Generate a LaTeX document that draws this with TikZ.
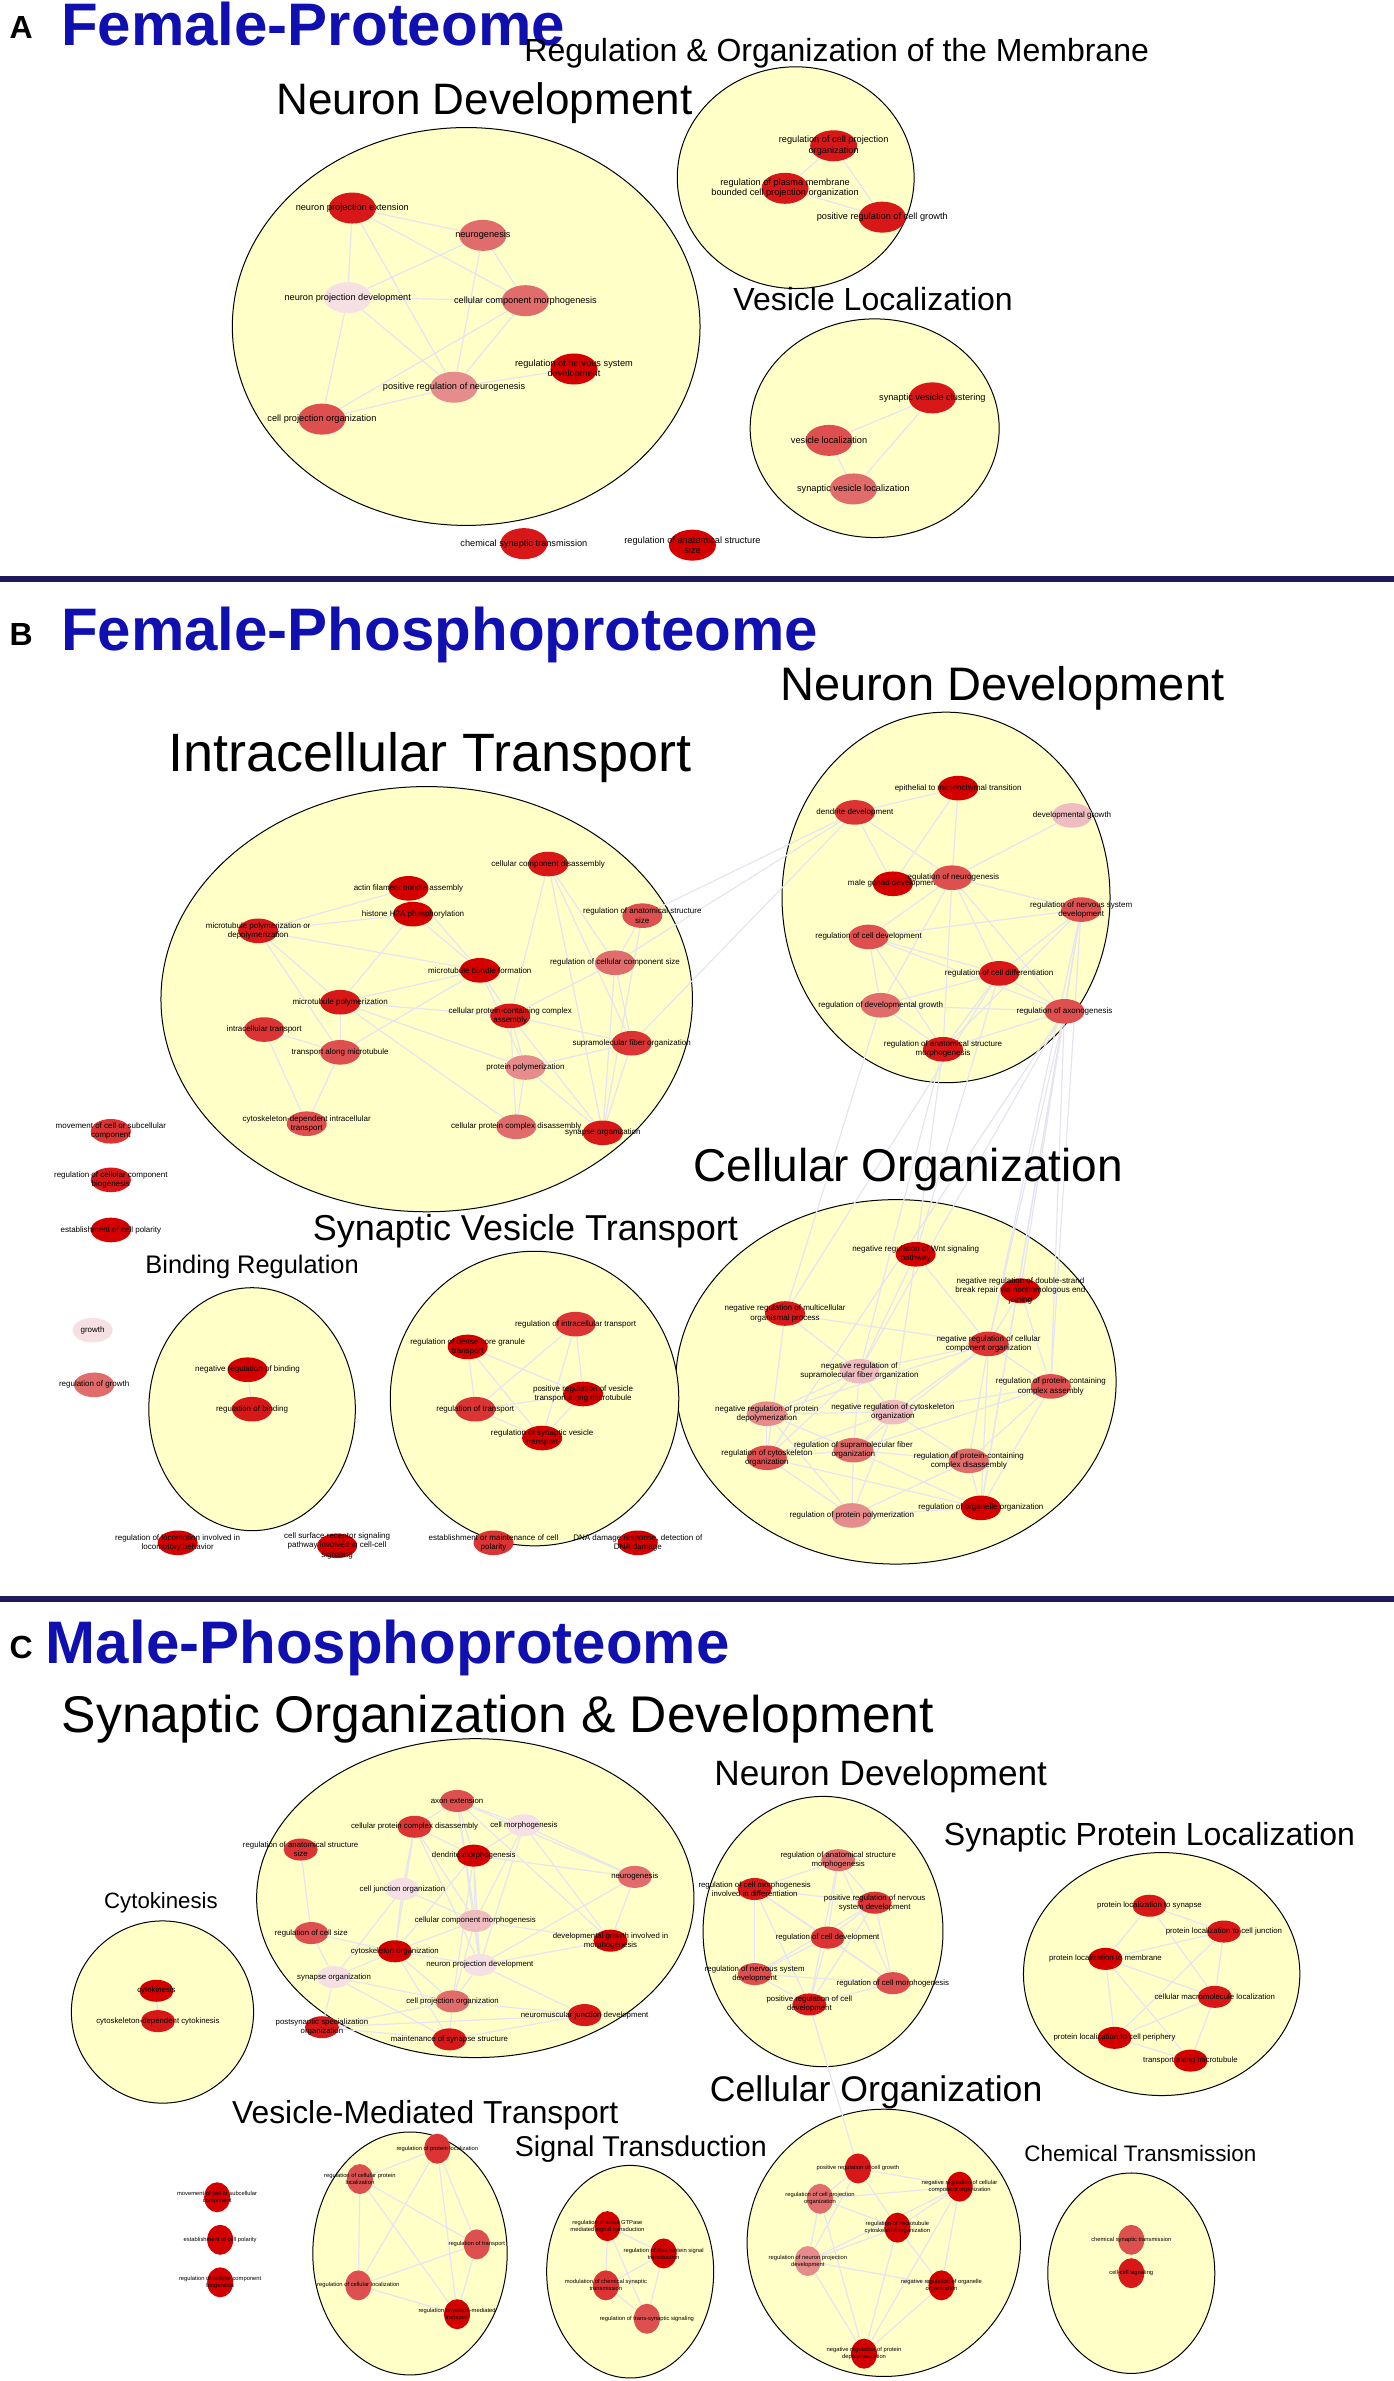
\documentclass[tikz,border=0pt]{standalone}
\usepackage{fontspec}
\setmainfont{Liberation Sans}
\usetikzlibrary{shapes.geometric}
\pgfdeclarelayer{bg}\pgfdeclarelayer{edges}
\pgfsetlayers{bg,edges,main}
\definecolor{cR}{HTML}{D40000}
\definecolor{cRb}{HTML}{D81818}
\definecolor{cM}{HTML}{DC3434}
\definecolor{cMb}{HTML}{DE5050}
\definecolor{cL}{HTML}{E16C6C}
\definecolor{cLb}{HTML}{E68C8C}
\definecolor{cP}{HTML}{EFBCC0}
\definecolor{cPP}{HTML}{F6E0E4}
\definecolor{clfill}{HTML}{FFFFC8}
\definecolor{edg}{HTML}{E6E4F0}
\definecolor{navy}{HTML}{1E1A5C}
\definecolor{ttl}{HTML}{1010B0}
\newcommand\gn[6]{\node[#1,fill=#5] (#2) at (#3,#4) {}; \node[#1l] at (#2) {#6};}
\tikzset{
 gA/.style={ellipse,draw=none,minimum width=23.5pt,minimum height=15.5pt,inner sep=0pt},
 gAl/.style={inner sep=0pt,align=center,font=\fontsize{4.6}{5.2}\selectfont},
 gB/.style={ellipse,draw=none,minimum width=20pt,minimum height=12.3pt,inner sep=0pt},
 gBl/.style={inner sep=0pt,align=center,font=\fontsize{4.0}{4.6}\selectfont},
 gC/.style={ellipse,draw=none,minimum width=17pt,minimum height=11pt,inner sep=0pt},
 gCl/.style={inner sep=0pt,align=center,font=\fontsize{3.9}{4.5}\selectfont},
 gD/.style={ellipse,draw=none,minimum width=13pt,minimum height=15pt,inner sep=0pt},
 gDl/.style={inner sep=0pt,align=center,font=\fontsize{2.9}{3.5}\selectfont},
 cl/.style={draw=black,line width=0.5pt,fill=clfill},
 ed/.style={draw=edg,line width=0.6pt},
 ttlnode/.style={inner sep=0pt,anchor=west,text=ttl,font=\bfseries\fontsize{30}{32}\selectfont},
 letnode/.style={inner sep=0pt,font=\bfseries\fontsize{16}{18}\selectfont},
 hd/.style={inner sep=0pt,font=\fontsize{#1}{#1}\selectfont},
 div/.style={line width=3pt,draw=navy}
}
\begin{document}
\begin{tikzpicture}[x=0.759pt,y=-0.759pt]
\useasboundingbox (0,0) rectangle (918,1568);
% ================= Panel A =================
\node[letnode] (LA) at (14,18) {A};
\node[ttlnode] (TA) at (40,16) {Female-Proteome};
\node[hd=16] (hA1) at (551,35) {Regulation \& Organization of the Membrane};
\node[hd=22] (hA2) at (319,68) {Neuron Development};
\node[hd=16] (hA3) at (575,197) {Vesicle Localization};
\begin{pgfonlayer}{bg}
\draw[cl] (307,215) ellipse [x radius=154,y radius=131];
\draw[cl] (524,117) ellipse [x radius=78,y radius=73];
\draw[cl] (576,282) ellipse [x radius=82,y radius=72];
\end{pgfonlayer}
\gn{gA}{anpe}{232}{137}{cRb}{neuron projection extension}
\gn{gA}{ang}{318}{155}{cL}{neurogenesis}
\gn{gA}{anpd}{229}{196}{cPP}{neuron projection development}
\gn{gA}{accm}{346}{198}{cL}{cellular component morphogenesis}
\gn{gA}{arnsd}{378}{243}{cR}{regulation of nervous system\\development}
\gn{gA}{aprn}{299}{255}{cLb}{positive regulation of neurogenesis}
\gn{gA}{acpo}{212}{276}{cMb}{cell projection organization}
\gn{gA}{arcpo}{549}{96}{cRb}{regulation of cell projection\\organization}
\gn{gA}{arpm}{517}{124}{cRb}{regulation of plasma membrane\\bounded cell projection organization}
\gn{gA}{aprcg}{581}{143}{cRb}{positive regulation of cell growth}
\gn{gA}{asvc}{614}{262}{cRb}{synaptic vesicle clustering}
\gn{gA}{avl}{546}{290}{cMb}{vesicle localization}
\gn{gA}{asvl}{562}{322}{cL}{synaptic vesicle localization}
\gn{gA}{acst}{345}{358}{cRb}{chemical synaptic transmission}
\gn{gA}{aras}{456}{359}{cR}{regulation of anatomical structure\\size}
\begin{pgfonlayer}{edges}
\foreach \a/\b in {anpe/ang,anpe/anpd,anpe/aprn,anpe/accm,ang/anpd,ang/accm,ang/aprn,anpd/accm,anpd/aprn,anpd/acpo,accm/aprn,accm/acpo,aprn/arnsd,aprn/acpo,arcpo/arpm,arcpo/aprcg,arpm/aprcg,asvc/avl,asvc/asvl,avl/asvl}
 \draw[ed] (\a) -- (\b);
\end{pgfonlayer}
\draw[div] (0,381) -- (918,381);
% ================= Panel B =================
\node[letnode] (LB) at (14,418) {B};
\node[ttlnode] (TB) at (40,418) {Female-Phosphoproteome};
\node[hd=23.5] (hB1) at (660,453) {Neuron Development};
\node[hd=27] (hB2) at (283,499) {Intracellular Transport};
\node[hd=23] (hB3) at (598,770) {Cellular Organization};
\node[hd=18] (hB4) at (346,811) {Synaptic Vesicle Transport};
\node[hd=12.7] (hB5) at (166,834) {Binding Regulation};
\begin{pgfonlayer}{bg}
\draw[cl] (281,658) ellipse [x radius=175,y radius=140];
\draw[cl] (623,591) ellipse [x radius=108,y radius=122];
\draw[cl] (590,910) ellipse [x radius=145,y radius=120];
\draw[cl] (352,921) ellipse [x radius=95,y radius=97];
\draw[cl] (166,928) ellipse [x radius=68,y radius=80];
\end{pgfonlayer}
\gn{gB}{bccd}{361}{569}{cRb}{cellular component disassembly}
\gn{gB}{bafb}{269}{585}{cR}{actin filament bundle assembly}
\gn{gB}{bras}{423}{603}{cMb}{regulation of anatomical structure\\size}
\gn{gB}{bmpd}{170}{613}{cRb}{microtubule polymerization or\\depolymerization}
\gn{gB}{bh2a}{272}{602}{cR}{histone H2A phosphorylation}
\gn{gB}{bmbf}{316}{639}{cR}{microtubule bundle formation}
\gn{gB}{brccs}{405}{634}{cL}{regulation of cellular component size}
\gn{gB}{bmp}{224}{660}{cRb}{microtubule polymerization}
\gn{gB}{bcpcca}{336}{669}{cRb}{cellular protein-containing complex\\assembly}
\gn{gB}{bitr}{174}{678}{cM}{intracellular transport}
\gn{gB}{btam}{224}{693}{cMb}{transport along microtubule}
\gn{gB}{bsfo}{416}{687}{cM}{supramolecular fiber organization}
\gn{gB}{bpp}{346}{703}{cLb}{protein polymerization}
\gn{gB}{bcdit}{202}{740}{cMb}{cytoskeleton-dependent intracellular\\transport}
\gn{gB}{bcpcd}{340}{742}{cL}{cellular protein complex disassembly}
\gn{gB}{bso}{397}{746}{cRb}{synapse organization}
% ND
\gn{gB}{bemt}{631}{519}{cR}{epithelial to mesenchymal transition}
\gn{gB}{bdd}{563}{535}{cM}{dendrite development}
\gn{gB}{bdg}{706}{537}{cP}{developmental growth}
\gn{gB}{bmgd}{588}{582}{cR}{male gonad development}
\gn{gB}{brn}{627}{578}{cMb}{regulation of neurogenesis}
\gn{gB}{brnsd}{712}{599}{cMb}{regulation of nervous system\\development}
\gn{gB}{brcd}{572}{617}{cMb}{regulation of cell development}
\gn{gB}{brcdiff}{658}{641}{cRb}{regulation of cell differentiation}
\gn{gB}{brdg}{580}{662}{cL}{regulation of developmental growth}
\gn{gB}{brax}{701}{666}{cMb}{regulation of axonogenesis}
\gn{gB}{brasm}{621}{691}{cRb}{regulation of anatomical structure\\morphogenesis}
% CO
\gn{gB}{bnrw}{603}{826}{cR}{negative regulation of Wnt signaling\\pathway}
\gn{gB}{bnrdsb}{672}{850}{cR}{negative regulation of double-strand\\break repair via nonhomologous end\\joining}
\gn{gB}{bnrmop}{517}{865}{cRb}{negative regulation of multicellular\\organismal process}
\gn{gB}{bnrcco}{651}{885}{cM}{negative regulation of cellular\\component organization}
\gn{gB}{bnrsfo}{566}{903}{cP}{negative regulation of\\supramolecular fiber organization}
\gn{gB}{brpcca}{692}{913}{cMb}{regulation of protein-containing\\complex assembly}
\gn{gB}{bnrpd}{505}{931}{cLb}{negative regulation of protein\\depolymerization}
\gn{gB}{bnrco}{588}{930}{cP}{negative regulation of cytoskeleton\\organization}
\gn{gB}{brsfo}{562}{955}{cL}{regulation of supramolecular fiber\\organization}
\gn{gB}{brco}{505}{960}{cMb}{regulation of cytoskeleton\\organization}
\gn{gB}{brpcd}{638}{962}{cL}{regulation of protein-containing\\complex disassembly}
\gn{gB}{broo}{646}{993}{cR}{regulation of organelle organization}
\gn{gB}{brpp}{561}{998}{cLb}{regulation of protein polymerization}
% SVT / BR
\gn{gB}{brit}{379}{872}{cM}{regulation of intracellular transport}
\gn{gB}{brdcg}{308}{887}{cR}{regulation of dense core granule\\transport}
\gn{gB}{bprvt}{384}{918}{cR}{positive regulation of vesicle\\transport along microtubule}
\gn{gB}{brt}{313}{928}{cM}{regulation of transport}
\gn{gB}{brsvt}{357}{947}{cR}{regulation of synaptic vesicle\\transport}
\gn{gB}{bnrb}{163}{902}{cR}{negative regulation of binding}
\gn{gB}{brb}{166}{928}{cRb}{regulation of binding}
% loose
\gn{gB}{bmcsc}{73}{745}{cM}{movement of cell or subcellular\\component}
\gn{gB}{brccb}{73}{777}{cRb}{regulation of cellular component\\biogenesis}
\gn{gB}{becp}{73}{810}{cR}{establishment of cell polarity}
\gn{gB}{bgr}{61}{876}{cPP}{growth}
\gn{gB}{brg}{62}{912}{cL}{regulation of growth}
\gn{gB}{brlib}{117}{1016}{cR}{regulation of locomotion involved in\\locomotory behavior}
\gn{gB}{bcsrs}{222}{1018}{cR}{cell surface receptor signaling\\pathway involved in cell-cell\\signaling}
\gn{gB}{bemcp}{325}{1016}{cM}{establishment or maintenance of cell\\polarity}
\gn{gB}{bddr}{420}{1016}{cR}{DNA damage response, detection of\\DNA damage}
\begin{pgfonlayer}{edges}
\foreach \a/\b in {bafb/bh2a,bafb/bmpd,bafb/bmbf,bh2a/bmbf,bh2a/bmpd,bh2a/bmp,bmpd/bmbf,bmpd/bmp,bmpd/btam,bmbf/bmp,bmbf/bcpcca,bmbf/btam,bmbf/bpp,bmp/bcpcca,bmp/btam,bmp/bpp,bmp/bcpcd,bitr/btam,bitr/bcdit,btam/bcdit,bcpcca/bpp,bcpcca/bcpcd,bcpcca/bso,bcpcca/bsfo,bccd/bcpcca,bccd/bsfo,bccd/bso,bccd/brccs,brccs/bras,brccs/bsfo,brccs/bso,brccs/bcpcca,bsfo/bpp,bsfo/bso,bpp/bcpcd,bpp/bso,bras/bso,
 bemt/bdd,bemt/bmgd,bemt/brn,bdd/brn,bdd/bmgd,bdg/brn,brn/brnsd,brn/brcd,brn/brcdiff,brn/brdg,brn/brax,brn/brasm,brnsd/brcd,brnsd/brcdiff,brnsd/brax,brnsd/brasm,brcd/brcdiff,brcd/brdg,brcd/brasm,brcd/brax,brcdiff/brdg,brcdiff/brax,brcdiff/brasm,brdg/brax,brdg/brasm,brax/brasm,
 bdd/bras,bdd/brccs,bdd/bsfo,
 brasm/bnrw,brax/bnrdsb,brax/bnrcco,brnsd/bnrcco,brax/brpcca,brnsd/brpcca,brcdiff/bnrmop,brdg/bnrmop,brax/broo,brax/brco,brnsd/broo,brax/bnrsfo,brcdiff/bnrw,brasm/bnrsfo,
 bnrw/bnrcco,bnrw/bnrsfo,bnrw/bnrco,bnrmop/bnrcco,bnrmop/bnrsfo,bnrmop/brco,bnrcco/bnrsfo,bnrcco/bnrco,bnrcco/brpcca,bnrcco/brsfo,bnrcco/brpcd,bnrcco/broo,bnrcco/bnrpd,bnrsfo/bnrpd,bnrsfo/bnrco,bnrsfo/brsfo,bnrsfo/brco,brpcca/bnrco,brpcca/brpcd,brpcca/broo,brpcca/brsfo,bnrpd/bnrco,bnrpd/brco,bnrpd/brsfo,bnrpd/brpp,bnrco/brsfo,bnrco/brco,bnrco/brpcd,bnrco/brpp,brsfo/brco,brsfo/brpcd,brsfo/broo,brsfo/brpp,brco/brpp,brco/broo,brpcd/broo,brpcd/brpp,broo/brpp,bnrdsb/bnrcco,bnrdsb/brpcca,
 brit/bprvt,brit/brt,brit/brsvt,brdcg/bprvt,brdcg/brt,brdcg/brsvt,bprvt/brt,bprvt/brsvt,brt/brsvt,bnrb/brb}
 \draw[ed] (\a) -- (\b);
\end{pgfonlayer}
\draw[div] (0,1053) -- (918,1053);
% ================= Panel C =================
\node[letnode] (LC) at (14,1085) {C};
\node[ttlnode] (TC) at (30,1085) {Male-Phosphoproteome};
\node[hd=25.8] (hC1) at (328,1132) {Synaptic Organization \& Development};
\node[hd=17.6] (hC2) at (580,1170) {Neuron Development};
\node[hd=16] (hC3) at (757,1210) {Synaptic Protein Localization};
\node[hd=11.1] (hC4) at (106,1253) {Cytokinesis};
\node[hd=15.9] (hC5) at (280,1393) {Vesicle-Mediated Transport};
\node[hd=14.3] (hC6) at (422,1415) {Signal Transduction};
\node[hd=17.8] (hC7) at (577,1378) {Cellular Organization};
\node[hd=11.2] (hC8) at (751,1418) {Chemical Transmission};
\begin{pgfonlayer}{bg}
\draw[cl] (313,1250) ellipse [x radius=144,y radius=105];
\draw[cl] (542,1272) ellipse [x radius=79,y radius=89];
\draw[cl] (765,1300) ellipse [x radius=91,y radius=80];
\draw[cl] (107,1325) ellipse [x radius=60,y radius=60];
\draw[cl] (270,1484) ellipse [x radius=64,y radius=80];
\draw[cl] (415,1496) ellipse [x radius=55,y radius=70];
\draw[cl] (582,1477) ellipse [x radius=90,y radius=88];
\draw[cl] (745,1497) ellipse [x radius=55,y radius=66];
\end{pgfonlayer}
\gn{gC}{cae}{301}{1186}{cMb}{axon extension}
\gn{gC}{ccpcd}{273}{1203}{cM}{cellular protein complex disassembly}
\gn{gC}{ccm}{345}{1202}{cPP}{cell morphogenesis}
\gn{gC}{cras}{198}{1218}{cM}{regulation of anatomical structure\\size}
\gn{gC}{cdm}{312}{1222}{cR}{dendrite morphogenesis}
\gn{gC}{cng}{418}{1236}{cL}{neurogenesis}
\gn{gC}{ccjo}{265}{1244}{cPP}{cell junction organization}
\gn{gC}{cccm}{313}{1265}{cP}{cellular component morphogenesis}
\gn{gC}{crcs}{205}{1273}{cMb}{regulation of cell size}
\gn{gC}{cdgim}{402}{1278}{cR}{developmental growth involved in\\morphogenesis}
\gn{gC}{cco}{260}{1285}{cR}{cytoskeleton organization}
\gn{gC}{cnpd}{316}{1294}{cPP}{neuron projection development}
\gn{gC}{cso}{220}{1302}{cPP}{synapse organization}
\gn{gC}{ccpo}{298}{1318}{cL}{cell projection organization}
\gn{gC}{cnjd}{385}{1327}{cRb}{neuromuscular junction development}
\gn{gC}{cpsso}{212}{1335}{cRb}{postsynaptic specialization\\organization}
\gn{gC}{cmss}{296}{1343}{cRb}{maintenance of synapse structure}
% ND
\gn{gC}{nrasm}{552}{1225}{cL}{regulation of anatomical structure\\morphogenesis}
\gn{gC}{nrcmd}{497}{1244}{cRb}{regulation of cell morphogenesis\\involved in differentiation}
\gn{gC}{nprnsd}{576}{1253}{cM}{positive regulation of nervous\\system development}
\gn{gC}{nrcd}{545}{1276}{cM}{regulation of cell development}
\gn{gC}{nrnsd}{497}{1300}{cMb}{regulation of nervous system\\development}
\gn{gC}{nrcm}{588}{1306}{cMb}{regulation of cell morphogenesis}
\gn{gC}{nprcd}{533}{1320}{cRb}{positive regulation of cell\\development}
% SPL
\gn{gC}{spls}{757}{1255}{cRb}{protein localization to synapse}
\gn{gC}{splcj}{806}{1272}{cRb}{protein localization to cell junction}
\gn{gC}{splm}{728}{1290}{cR}{protein localization to membrane}
\gn{gC}{scml}{800}{1315}{cRb}{cellular macromolecule localization}
\gn{gC}{splcp}{734}{1342}{cR}{protein localization to cell periphery}
\gn{gC}{stam}{784}{1357}{cR}{transport along microtubule}
% Cytokinesis
\gn{gC}{kck}{103}{1311}{cR}{cytokinesis}
\gn{gC}{kcdc}{104}{1331}{cRb}{cytoskeleton-dependent cytokinesis}
% bottom
\gn{gD}{lmcsc}{143}{1447}{cR}{movement of cell or subcellular\\component}
\gn{gD}{lecp}{145}{1475}{cR}{establishment of cell polarity}
\gn{gD}{lrccb}{145}{1503}{cR}{regulation of cellular component\\biogenesis}
\gn{gD}{vrpl}{288}{1415}{cM}{regulation of protein localization}
\gn{gD}{vrcpl}{237}{1435}{cMb}{regulation of cellular protein\\localization}
\gn{gD}{vrt}{314}{1478}{cMb}{regulation of transport}
\gn{gD}{vrcl}{236}{1505}{cMb}{regulation of cellular localization}
\gn{gD}{vrvmt}{301}{1524}{cR}{regulation of vesicle-mediated\\transport}
\gn{gD}{trsg}{400}{1466}{cR}{regulation of small GTPase\\mediated signal transduction}
\gn{gD}{trras}{437}{1484}{cR}{regulation of Ras protein signal\\transduction}
\gn{gD}{tmcst}{399}{1505}{cM}{modulation of chemical synaptic\\transmission}
\gn{gD}{trtss}{426}{1527}{cMb}{regulation of trans-synaptic signaling}
\gn{gD}{oprcg}{565}{1428}{cRb}{positive regulation of cell growth}
\gn{gD}{onrcco}{632}{1440}{cR}{negative regulation of cellular\\component organization}
\gn{gD}{orcpo}{540}{1448}{cL}{regulation of cell projection\\organization}
\gn{gD}{ormco}{591}{1467}{cR}{regulation of microtubule\\cytoskeleton organization}
\gn{gD}{ornpd}{532}{1489}{cLb}{regulation of neuron projection\\development}
\gn{gD}{onroo}{620}{1505}{cR}{negative regulation of organelle\\organization}
\gn{gD}{onrpd}{569}{1550}{cR}{negative regulation of protein\\depolymerization}
\gn{gD}{hcst}{745}{1475}{cMb}{chemical synaptic transmission}
\gn{gD}{hccs}{745}{1497}{cRb}{cell-cell signaling}
\begin{pgfonlayer}{edges}
\foreach \a/\b in {cae/ccpcd,cae/ccm,cae/cdm,cae/cccm,cae/cnpd,cae/cng,cae/cdgim,ccpcd/cdm,ccpcd/ccjo,ccpcd/cccm,ccpcd/cco,ccpcd/cnpd,ccm/cdm,ccm/cng,ccm/cdgim,ccm/cnpd,ccm/cccm,cdm/cccm,cdm/cnpd,cdm/cng,cdm/cco,cdm/ccpo,cras/crcs,ccjo/cccm,ccjo/cco,ccjo/cso,cccm/cnpd,cccm/cco,cccm/cdgim,cccm/ccpo,crcs/cco,crcs/cso,cco/cnpd,cco/cso,cco/ccpo,cco/cmss,cnpd/ccpo,cnpd/cnjd,cnpd/cdgim,cng/cnpd,cng/cdgim,cso/ccpo,cso/cpsso,cso/cmss,ccpo/cnjd,ccpo/cmss,ccpo/cpsso,cpsso/cmss,cpsso/cnjd,cnjd/cmss,
 nrasm/nrcmd,nrasm/nprnsd,nrasm/nrcd,nrasm/nprcd,nrasm/nrcm,nrcmd/nrcd,nrcmd/nrnsd,nrcmd/nprnsd,nrcmd/nprcd,nrcmd/nrcm,nprnsd/nrcd,nprnsd/nrcm,nprnsd/nprcd,nprnsd/nrnsd,nrcd/nrnsd,nrcd/nrcm,nrcd/nprcd,nrnsd/nrcm,nrnsd/nprcd,nrcm/nprcd,nprcd/oprcg,
 spls/splcj,spls/splm,spls/scml,splcj/splm,splcj/scml,splcj/splcp,splm/scml,splm/splcp,splm/stam,scml/splcp,scml/stam,splcp/stam,kck/kcdc,
 vrpl/vrcpl,vrpl/vrt,vrpl/vrcl,vrpl/vrvmt,vrcpl/vrt,vrcpl/vrcl,vrcpl/vrvmt,vrt/vrcl,vrt/vrvmt,vrcl/vrvmt,
 trsg/trras,trsg/tmcst,trsg/trtss,trras/tmcst,trras/trtss,tmcst/trtss,
 oprcg/onrcco,oprcg/orcpo,oprcg/ormco,oprcg/ornpd,onrcco/orcpo,onrcco/ormco,onrcco/onroo,onrcco/ornpd,onrcco/onrpd,orcpo/ormco,orcpo/ornpd,orcpo/onrpd,ormco/ornpd,ormco/onroo,ormco/onrpd,ornpd/onroo,ornpd/onrpd,onroo/onrpd,hcst/hccs}
 \draw[ed] (\a) -- (\b);
\end{pgfonlayer}
\end{tikzpicture}
\end{document}
